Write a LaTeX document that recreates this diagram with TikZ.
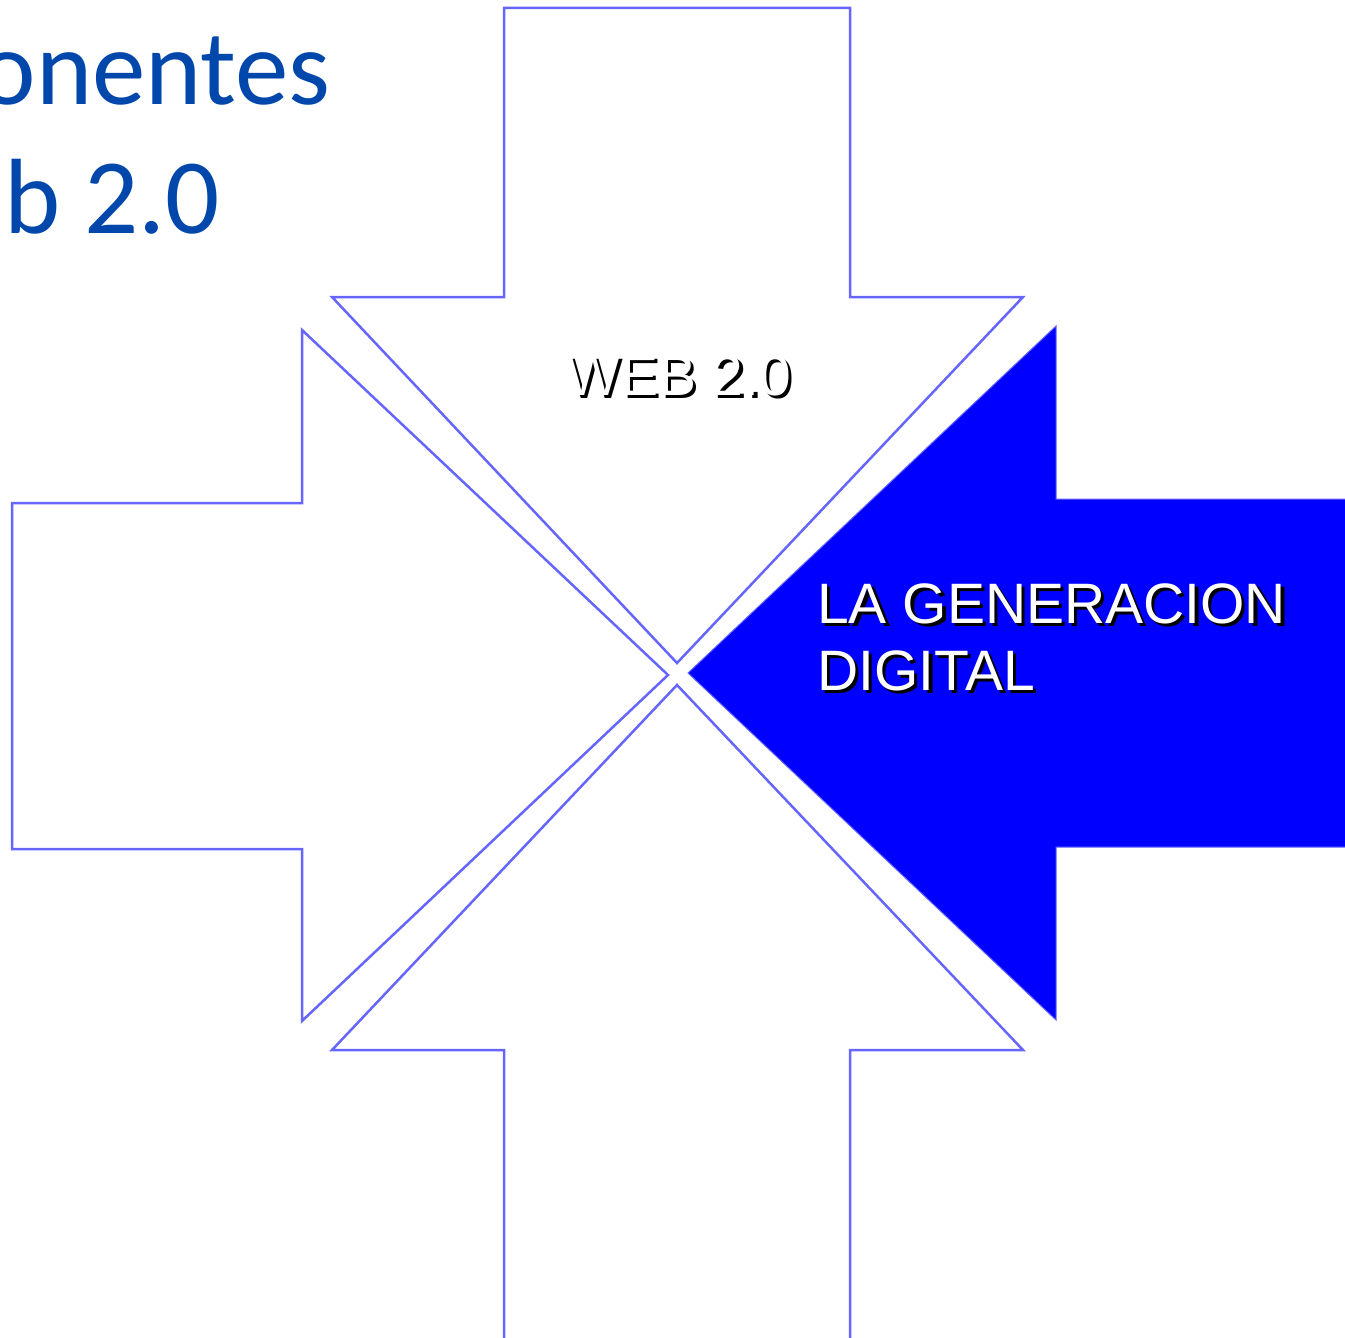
\documentclass[tikz,border=0pt]{standalone}
\usepackage{fontspec}
\setmainfont{Liberation Sans}
\newfontfamily\titlefont{Carlito}
\definecolor{edgeblue}{HTML}{6666FF}
\definecolor{fillblue}{HTML}{0000FF}
\definecolor{titleblue}{HTML}{0047AB}
\begin{document}
\begin{tikzpicture}[x=1pt,y=-1pt,
  arrowshape/.style={draw=edgeblue,line width=2.5pt,line join=miter},
  titletext/.style={inner sep=0pt,text=titleblue,font=\titlefont\fontsize{107}{128}\selectfont},
  shadowtext/.style={inner sep=0pt,align=left,font=\fontsize{57}{67}\selectfont},
]
\useasboundingbox (0,0) rectangle (1345,1338);
\clip (0,0) rectangle (1345,1338);
% top arrow (points down)
\draw[arrowshape] (504,8) -- (850,8) -- (850,297) -- (1023,297) -- (677,663) -- (332,297) -- (504,297) -- cycle;
% left arrow (points right)
\draw[arrowshape] (12,503) -- (302,503) -- (302,330) -- (668,675) -- (302,1021) -- (302,849) -- (12,849) -- cycle;
% bottom arrow (points up)
\draw[arrowshape] (504,1360) -- (504,1050) -- (332,1050) -- (677,685) -- (1023,1050) -- (850,1050) -- (850,1360);
% right arrow (filled, points left)
\draw[arrowshape,fill=fillblue,line width=1pt] (1360,499) -- (1056,499) -- (1056,326) -- (688,673) -- (1056,1020) -- (1056,847) -- (1360,847);
% title
\node[titletext,anchor=base east] (t1) at (331,105) {Componentes};
\node[titletext,anchor=base east] (t2) at (220,233) {Web 2.0};
% WEB 2.0 label
\node[shadowtext,text=black,anchor=base west] (w0s) at (569.5,398.5) {WEB 2.0};
\node[shadowtext,text=white,anchor=base west] (w0) at (566,395) {WEB 2.0};
% LA GENERACION DIGITAL label
\node[shadowtext,text=black,anchor=base west] (g1s) at (820.5,626.5) {LA GENERACION};
\node[shadowtext,text=black,anchor=base west] (g2s) at (820.5,693.5) {DIGITAL};
\node[shadowtext,text=white,anchor=base west] (g1) at (817,623) {LA GENERACION};
\node[shadowtext,text=white,anchor=base west] (g2) at (817,690) {DIGITAL};
\end{tikzpicture}
\end{document}
